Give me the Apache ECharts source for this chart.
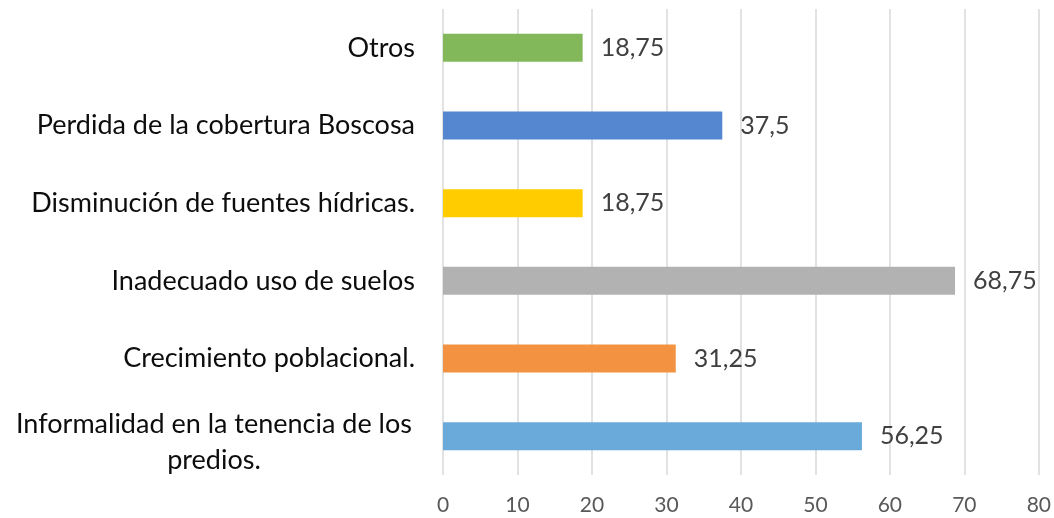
<!DOCTYPE html>
<html>
<head>
<meta charset="utf-8">
<script src="https://cdn.jsdelivr.net/npm/echarts@6/dist/echarts.min.js"></script>
<style>
  html, body { margin: 0; padding: 0; background: #fff; }
  #chart { width: 1054px; height: 518px; }
</style>
</head>
<body>
<div id="chart"></div>
<script>
// Causes, listed bottom to top as they appear on the category axis
const categories = [
  'Informalidad en la tenencia de los\npredios.',
  'Crecimiento poblacional.',
  'Inadecuado uso de suelos',
  'Disminución de fuentes hídricas.',
  'Perdida de la cobertura Boscosa',
  'Otros'
];
const values = [56.25, 31.25, 68.75, 18.75, 37.5, 18.75];
const barColors = ['#6AAADB', '#F39342', '#B2B2B2', '#FFCC00', '#5586D0', '#82B85A'];
const xTicks = [0, 10, 20, 30, 40, 50, 60, 70, 80];

const FONT = 'Lato';
const CAT_SIZE = 27;

const chart = echarts.init(document.getElementById('chart'), null, { renderer: 'canvas' });

// wrapped labels sit slightly lower than their bar centre
const yData = categories.map(c => c.indexOf('\n') < 0
  ? c
  : { value: c, textStyle: { padding: [12, 0, 0, 0] } });

chart.setOption({
  backgroundColor: '#ffffff',
  animation: false,
  grid: { left: 443, right: 12, top: 9, bottom: 43, containLabel: false },
  xAxis: {
    type: 'value',
    min: xTicks[0],
    max: xTicks[xTicks.length - 1],
    interval: xTicks[1] - xTicks[0],
    axisLine: { show: false },
    axisTick: { show: false },
    splitLine: { show: true, lineStyle: { color: '#D9D9D9', width: 1.5 } },
    axisLabel: {
      color: '#595959',
      fontFamily: FONT,
      fontSize: 21,
      margin: 20,
      formatter: v => String(v)
    }
  },
  yAxis: {
    type: 'category',
    data: yData,
    axisLine: { show: false },
    axisTick: { show: false },
    splitLine: { show: false },
    axisLabel: {
      color: '#0D0D0D',
      fontFamily: FONT,
      fontSize: CAT_SIZE,
      margin: 28,
      // wrapped labels are centred line by line inside a fixed-width block
      formatter: v => v.indexOf('\n') < 0
        ? v
        : v.split('\n').map(s => '{c|' + s + '}').join('\n'),
      rich: {
        c: {
          color: '#0D0D0D',
          fontFamily: FONT,
          fontSize: CAT_SIZE,
          lineHeight: 36,
          width: 402,
          align: 'center'
        }
      }
    }
  },
  series: [{
    type: 'bar',
    data: values.map((v, i) => ({ value: v, itemStyle: { color: barColors[i] } })),
    barWidth: 28,
    label: {
      show: true,
      position: 'right',
      distance: 18,
      color: '#404040',
      fontFamily: FONT,
      fontSize: 25,
      formatter: p => String(p.value).replace('.', ',')
    }
  }]
});
</script>
</body>
</html>
